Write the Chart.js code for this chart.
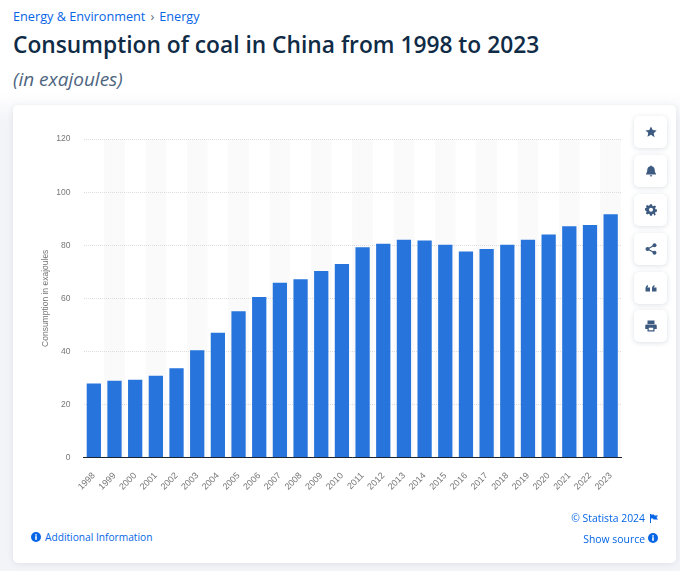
<!DOCTYPE html>
<html>
<head>
<meta charset="utf-8">
<script src="https://cdn.jsdelivr.net/npm/chart.js@4/dist/chart.umd.min.js"></script>
<style>
  html, body { margin: 0; padding: 0; }
  body { width: 680px; height: 571px; position: relative; overflow: hidden; background: #fff; font-family: "Open Sans", sans-serif; }
  .abs { position: absolute; white-space: nowrap; }
  .link { color: #0666e6; font-size: 12.700px; line-height: 16px; }
  #backdrop { left: 0; top: 92px; width: 680px; height: 479px; background: linear-gradient(#ffffff, #f3f4f8 30px); }
  #card { left: 13px; top: 105px; width: 663px; height: 458px; background: #fff; border-radius: 5px; box-shadow: 0 1px 6px rgba(40,60,90,.10); }
  #title { left: 13px; top: 28px; font-size: 22.750px; line-height: 33px; font-weight: 600; color: #0f2b46; }
  #sub { left: 13px; top: 67px; font-size: 19px; line-height: 24px; font-style: italic; color: #4e6580; }
  .btn { position: absolute; left: 634px; width: 33px; height: 32px; background: #fff; border-radius: 5px; box-shadow: 0 1px 5px rgba(40,60,90,.16); display: flex; align-items: center; justify-content: center; }
  .btn svg { width: 12px; height: 12px; fill: #3d5a80; }
  #wrap { position: absolute; left: 30px; top: 121px; width: 600px; height: 394px; }
</style>
</head>
<body>
<div class="abs" id="backdrop"></div>
<div class="abs link" style="left:13px;top:8px;">Energy &amp; Environment<span style="color:#5a6b80;margin:0 5px">›</span>Energy</div>
<div class="abs" id="title">Consumption of coal in China from 1998 to 2023</div>
<div class="abs" id="sub">(in exajoules)</div>
<div class="abs" id="card"></div>

<div class="btn" style="top:116px"><svg viewBox="0 0 24 24"><path d="M12 1l3.400 7.200 7.800 1-5.700 5.400 1.500 7.800L12 17.600l-7 3.800 1.500-7.800L.8 9.200l7.800-1z"/></svg></div>
<div class="btn" style="top:155px"><svg viewBox="0 0 24 24"><path d="M12 1c1 0 1.700.8 1.700 1.700 3.600.8 5.800 3.800 5.800 7.300 0 4 1 5.800 2.500 7.500v1.500H2V17.500C3.500 15.800 4.500 14 4.500 10c0-3.500 2.200-6.500 5.800-7.300C10.300 1.800 11 1 12 1zM9.500 20.500h5a2.500 2.500 0 0 1-5 0z"/></svg></div>
<div class="btn" style="top:194px"><svg viewBox="0 0 24 24"><path fill-rule="evenodd" d="M10 1h4l.6 3 2.400 1 2.600-1.700 2.800 2.800L20 8.700l1 2.400 3 .6v4l-3 .6-1 2.400-.1 0 1.700 2.600-2.800 2.800L17 20l-2.400 1-.6 3h-4l-.6-3L7 20l-2.600 1.700-2.800-2.800L3.300 16.300l-1-2.400-3-.6v-4l3-.6 1-2.400L1.600 5.100l2.800-2.800L7 4l2.400-1zM12 8a4 4 0 1 0 0 8 4 4 0 0 0 0-8z" transform="translate(0 -.5)"/></svg></div>
<div class="btn" style="top:233px"><svg viewBox="0 0 24 24"><circle cx="19" cy="4.500" r="4"/><circle cx="5" cy="12" r="4"/><circle cx="19" cy="19.500" r="4"/><path d="M5 12L19 4.500M5 12l14 7.500" stroke="#3d5a80" stroke-width="2.500"/></svg></div>
<div class="btn" style="top:272px"><svg viewBox="0 0 24 24"><path d="M1 13c0-3.500 2-6 5-7v3c-1 .5-1.500 1.200-1.500 2H10v8H1zM14 13c0-3.500 2-6 5-7v3c-1 .5-1.500 1.200-1.500 2H23v8h-9z"/></svg></div>
<div class="btn" style="top:310px"><svg viewBox="0 0 24 24"><path fill-rule="evenodd" d="M5 1h14v7H5zM3 9h18a2.500 2.500 0 0 1 2.500 2.500V18H19v5H5v-5H.5v-6.500A2.500 2.500 0 0 1 3 9zM7.500 15.500V20.500h9v-5z"/></svg></div>

<div id="wrap"><canvas id="chart" width="600" height="394"></canvas></div>

<svg class="abs" style="left:31px;top:532px" width="10" height="10" viewBox="0 0 10 10"><circle cx="5" cy="5" r="5" fill="#0666e6"/><rect x="4.200" y="4.200" width="1.600" height="3.600" fill="#fff"/><rect x="4.200" y="2.200" width="1.600" height="1.400" fill="#fff"/></svg>
<div class="abs link" style="left:45px;top:529px;font-size:10.200px">Additional Information</div>
<div class="abs link" style="right:35px;top:510px;font-size:10.400px">© Statista 2024</div>
<svg class="abs" style="left:650px;top:514px" width="8" height="9" viewBox="0 0 8 9"><path d="M0 0h1v9H0zM1 .5h3l.5 1H8L6.500 3.500 8 5.500H3.500L3 4.500H1z" fill="#0666e6"/></svg>
<div class="abs link" style="right:35px;top:531px;font-size:10.400px">Show source</div>
<svg class="abs" style="left:648px;top:533px" width="10" height="10" viewBox="0 0 10 10"><circle cx="5" cy="5" r="5" fill="#0666e6"/><rect x="4.200" y="4.200" width="1.600" height="3.600" fill="#fff"/><rect x="4.200" y="2.200" width="1.600" height="1.400" fill="#fff"/></svg>

<script>
const years = ['1998','1999','2000','2001','2002','2003','2004','2005','2006','2007','2008','2009','2010','2011','2012','2013','2014','2015','2016','2017','2018','2019','2020','2021','2022','2023'];
const consumption = [27.9,28.9,29.3,30.8,33.6,40.4,47.0,55.1,60.5,65.9,67.2,70.3,72.9,79.2,80.6,82.1,81.8,80.2,77.6,78.6,80.2,82.1,84.0,87.2,87.6,91.7];
const yTicks = [0,20,40,60,80,100,120];

// grey band behind every second year
const stripes = {
  id: 'stripes',
  beforeDraw(chart) {
    const { ctx, chartArea, scales } = chart;
    const step = scales.x.width / years.length;
    ctx.save();
    ctx.fillStyle = '#fafafb';
    years.forEach((_, i) => {
      if (i % 2 === 1) ctx.fillRect(scales.x.getPixelForTick(i) - step / 2, chartArea.top, step, chartArea.height);
    });
    ctx.restore();
  }
};

new Chart(document.getElementById('chart'), {
  type: 'bar',
  data: {
    labels: years,
    datasets: [{ label: 'Consumption', data: consumption, backgroundColor: '#2674dc', barPercentage: 0.69, categoryPercentage: 1 }]
  },
  plugins: [stripes],
  options: {
    responsive: false,
    animation: false,
    devicePixelRatio: 1,
    layout: { padding: { top: 5, right: 9, left: 0, bottom: 0 } },
    plugins: { legend: { display: false }, tooltip: { enabled: false }, title: { display: false } },
    scales: {
      x: {
        afterFit: s => { s.height = 57.500; },
        grid: { display: false },
        border: { display: true, color: '#1a2330', width: 1 },
        ticks: { color: '#777', font: { family: 'Liberation Sans', size: 9 }, maxRotation: 45, minRotation: 45, autoSkip: false, padding: 5 }
      },
      y: {
        min: 0,
        max: 120,
        afterBuildTicks: s => { s.ticks = yTicks.map(v => ({ value: v })); },
        afterFit: s => { s.width = 53.500; },
        grid: { color: '#dcdde0', drawTicks: false, lineWidth: 1 },
        border: { display: false, dash: [1, 1] },
        title: { display: true, text: 'Consumption in exajoules', color: '#777', font: { family: 'Liberation Sans', size: 8.500 }, padding: { top: 11, bottom: 0 } },
        ticks: { color: '#777', font: { family: 'Liberation Sans', size: 8.500 }, padding: 13 }
      }
    }
  }
});
</script>
</body>
</html>
